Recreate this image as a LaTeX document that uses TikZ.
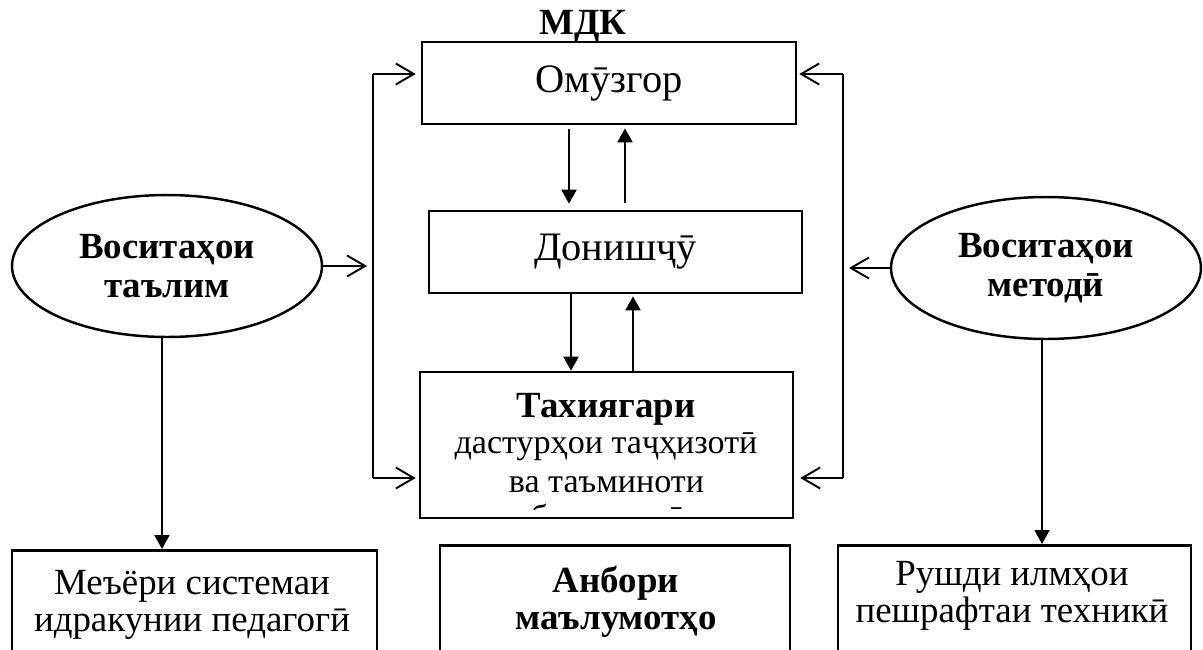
\documentclass[tikz,border=0pt]{standalone}
\usepackage{fontspec}
\setmainfont{Liberation Serif}
\usepackage{xcolor}
\usetikzlibrary{calc,arrows.meta,shapes.geometric}
\definecolor{ink}{HTML}{000000}
\tikzset{
  frame/.style={draw=ink, line width=1.5pt, inner sep=0pt},
  oval/.style={draw=ink, line width=1.4pt, ellipse, inner sep=0pt, minimum width=6.2cm, minimum height=2.84cm, align=center, font=\fontsize{21}{22.5}\selectfont\bfseries},
  lab/.style={text=ink, font=\fontsize{21}{21}\selectfont, align=center, inner sep=0pt},
  labs/.style={lab, font=\fontsize{19.4}{21}\selectfont},
  labl/.style={lab, font=\fontsize{23}{23}\selectfont},
  labb/.style={text=ink, font=\fontsize{21}{21}\selectfont\bfseries, align=center, inner sep=0pt},
  flow/.style={draw=ink, line width=1.1pt, -{Triangle[length=0.28cm,width=0.3cm]}},
  feed/.style={draw=ink, line width=1.1pt, -{Straight Barb[length=0.36cm,width=0.42cm,line width=1.1pt]}},
  bar/.style={draw=ink, line width=1pt},
}
\begin{document}
\begin{tikzpicture}[x=0.02cm, y=-0.02cm]
  \useasboundingbox (0,0) rectangle (1203,649);
  % centre column
  \node[labb] (mdk) at (583,26) {МДК};
  \node[frame, labl, minimum width=7.48cm, minimum height=1.64cm] (omuzgor) at (609,83) {Омӯзгор};
  \node[frame, labl, minimum width=7.46cm, minimum height=1.64cm] (donish) at (615.5,252) {Донишҷӯ};
  \node[frame, minimum width=7.46cm, minimum height=2.92cm] (tahiya) at (606.5,445) {};
  \begin{scope}
    \clip (tahiya.north west) rectangle (tahiya.east |- 0,509);
    \node[labb, anchor=base] (tl1) at (606,417) {Тахиягари};
    \node[labs, anchor=base] (tl2) at (606,453) {дастурҳои таҷҳизотӣ};
    \node[labs, anchor=base] (tl3) at (606.5,492) {ва таъминоти};
    \node[labs, anchor=base] (tl4) at (608,528) {барномавӣ};
  \end{scope}
  \draw[flow, shorten <=0.08cm, shorten >=0.12cm] ([xshift=-0.8cm]omuzgor.south) -- ([xshift=-0.8cm]omuzgor.south |- donish.north);
  \draw[flow, shorten <=0.14cm, shorten >=0.06cm] ([xshift=0.32cm]omuzgor.south |- donish.north) -- ([xshift=0.32cm]omuzgor.south);
  \draw[flow] ([xshift=-0.89cm]donish.south) -- ([xshift=-0.89cm]donish.south |- tahiya.north);
  \draw[flow, shorten >=0.04cm] ([xshift=0.35cm]donish.south |- tahiya.north) -- ([xshift=0.35cm]donish.south);
  % side ovals
  \node[oval] (tools) at (167,266) {Воситаҳои\\таълим};
  \node[oval] (method) at (1046,268) {Воситаҳои\\методӣ};
  \coordinate (ltop) at (373,74);
  \coordinate (lbot) at (373,478);
  \coordinate (rtop) at (843,74);
  \coordinate (rbot) at (843,478);
  \draw[bar] (ltop) -- (lbot);
  \draw[bar] (rtop) -- (rbot);
  \draw[feed] (tools.east) -- ([xshift=-0.12cm]ltop |- tools.east);
  \draw[feed] (method.west) -- ([xshift=0.12cm]rtop |- method.west);
  \draw[feed, shorten >=0.1cm] (ltop) -- (ltop -| omuzgor.west);
  \draw[feed, shorten >=0.06cm] (lbot) -- (lbot -| tahiya.west);
  \draw[feed, shorten >=0.04cm] (rtop) -- (rtop -| omuzgor.east);
  \draw[feed, shorten >=0.12cm] (rbot) -- (rbot -| tahiya.east);
  % bottom row
  \node[frame, anchor=north, minimum width=7.3cm, minimum height=2.6cm] (norm) at (194.5,549) {};
  \node[lab] (normtxt) at (192,605) {Меъёри системаи\\идракунии педагогӣ};
  \node[frame, anchor=north, minimum width=7cm, minimum height=2.6cm] (store) at (615,544) {};
  \node[labb] (storetxt) at (616,602) {Анбори\\маълумотҳо};
  \node[frame, anchor=north, minimum width=7.06cm, minimum height=2.6cm] (progress) at (1014.5,544) {};
  \node[lab] (progtxt) at (1012,595.5) {Рушди илмҳои\\пешрафтаи техникӣ};
  \draw[flow] ([xshift=-0.1cm]tools.south) -- ([xshift=-0.1cm]tools.south |- norm.north);
  \draw[flow] ([xshift=-0.08cm]method.south) -- ([xshift=-0.08cm]method.south |- progress.north);
\end{tikzpicture}
\end{document}
